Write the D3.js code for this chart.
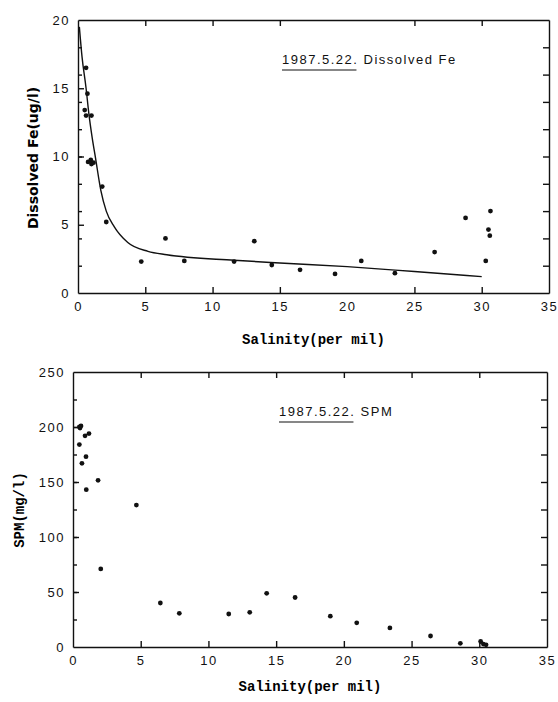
<!DOCTYPE html>
<html>
<head>
<meta charset="utf-8">
<script src="https://cdn.jsdelivr.net/npm/d3@7"></script>
<style>
  body { margin: 0; background: #fff; }
  svg { display: block; }
  .tick text { font-family: "Liberation Sans", sans-serif; font-size: 13px; letter-spacing: 1.5px; fill: #111; }
  .tick line, .domain { stroke: #111; stroke-width: 1.4px; }
</style>
</head>
<body>
<svg id="chart" width="558" height="702"></svg>
<script>
// dissolved Fe vs salinity (1987.5.22)
const feSal = [0.6, 0.7, 0.5, 0.6, 1.0, 0.75, 0.95, 1.0, 1.15, 1.8, 2.1, 4.7, 6.5, 7.9, 11.6, 13.1, 14.4, 16.5, 19.1, 21.05, 23.55, 26.5, 28.8, 30.3, 30.5, 30.6, 30.65];
const feVal = [16.5, 14.6, 13.4, 13.0, 13.0, 9.6, 9.75, 9.45, 9.55, 7.8, 5.2, 2.3, 4.0, 2.35, 2.3, 3.8, 2.05, 1.7, 1.4, 2.35, 1.45, 3.0, 5.5, 2.35, 4.65, 4.2, 6.0];

// fitted curve
const fitSal = [0.1, 0.3, 0.6, 0.8, 1.05, 1.3, 1.7, 2.1, 2.7, 3.7, 5.2, 6.6, 11.6, 15, 20, 25, 30];
const fitVal = [19.5, 17.3, 15.0, 13.2, 11.4, 9.9, 7.5, 6.0, 4.85, 3.7, 3.05, 2.8, 2.4, 2.2, 1.93, 1.57, 1.2];

// SPM vs salinity
const spmSal = [0.52, 0.59, 0.47, 0.47, 0.66, 0.89, 1.18, 0.96, 0.98, 1.85, 2.05, 4.68, 6.45, 7.85, 11.5, 13.05, 14.3, 16.4, 19.0, 20.95, 23.4, 26.4, 28.6, 30.1, 30.3, 30.5];
const spmVal = [199, 201, 200, 184, 167, 192, 194, 173, 143, 151.5, 71, 129, 40, 30.6, 30, 31.5, 48.8, 45, 28, 22, 17.3, 10, 3.3, 5, 2.7, 2];

const salTicks = [0, 5, 10, 15, 20, 25, 30, 35];
const feTicks = [0, 5, 10, 15, 20];
const spmTicks = [0, 50, 100, 150, 200, 250];

const svg = d3.select('#chart');

function panel(opt) {
  const x = d3.scaleLinear().domain([0, 35]).range([opt.left, opt.right]);
  const y = d3.scaleLinear().domain([0, opt.ymax]).range([opt.bottom, opt.top]);
  const g = svg.append('g');

  const minorY = d3.range(0, opt.ymax + 0.001, opt.ymax / 10);

  g.append('g').attr('transform', `translate(0,${opt.bottom})`)
    .call(d3.axisBottom(x).tickValues(salTicks).tickSizeInner(-6).tickSizeOuter(0).tickPadding(9).tickFormat(d3.format('d')));
  g.append('g').attr('transform', `translate(0,${opt.top})`)
    .call(d3.axisTop(x).tickValues(salTicks).tickSizeInner(-6).tickSizeOuter(0).tickFormat(''));
  g.append('g').attr('transform', `translate(${opt.left},0)`)
    .call(d3.axisLeft(y).tickValues(opt.yTicks).tickSizeInner(-6).tickSizeOuter(0).tickPadding(8).tickFormat(d3.format('d')));
  g.append('g').attr('transform', `translate(${opt.left},0)`)
    .call(d3.axisLeft(y).tickValues(minorY).tickSizeInner(-4).tickSizeOuter(0).tickFormat(''))
    .select('.domain').remove();
  g.append('g').attr('transform', `translate(${opt.right},0)`)
    .call(d3.axisRight(y).tickValues(minorY).tickSizeInner(-6).tickSizeOuter(0).tickFormat(''));

  g.selectAll('.tick').filter(d => d === 0 || d === 35 || d === opt.ymax).select('line').remove();

  g.selectAll('circle.dot')
    .data(opt.xs.map((s, i) => [s, opt.ys[i]]))
    .enter().append('circle')
    .attr('class', 'dot')
    .attr('cx', d => x(d[0]))
    .attr('cy', d => y(d[1]))
    .attr('r', 2.4)
    .style('fill', '#111');

  if (opt.fit) {
    const line = d3.line().x(d => x(d[0])).y(d => y(d[1])).curve(d3.curveMonotoneX);
    g.append('path')
      .datum(opt.fit)
      .attr('d', line)
      .style('fill', 'none')
      .style('stroke', '#111')
      .style('stroke-width', 1.4);
  }

  // title with underlined date
  const t = g.append('text')
    .attr('x', opt.titleX)
    .attr('y', opt.top + 44)
    .style('font-family', '"Liberation Sans", sans-serif')
    .style('font-size', '13px')
    .style('letter-spacing', '1.5px')
    .style('fill', '#111');
  const date = t.append('tspan').text('1987.5.22.');
  t.append('tspan').text(' ' + opt.title);
  const w = date.node().getComputedTextLength();
  g.append('line')
    .attr('x1', opt.titleX).attr('x2', opt.titleX + w - 2)
    .attr('y1', opt.top + 50).attr('y2', opt.top + 50)
    .style('stroke', '#111').style('stroke-width', 1.2);

  g.append('text')
    .attr('x', (opt.left + opt.right) / 2)
    .attr('y', opt.bottom + opt.xlabDy)
    .attr('text-anchor', 'middle')
    .style('font-family', '"Liberation Mono", monospace')
    .style('font-weight', 'bold')
    .style('font-size', '14px')
    .text('Salinity(per mil)');

  g.append('text')
    .attr('transform', `translate(${opt.ylabX},${opt.ylabY}) rotate(-90)`)
    .attr('text-anchor', 'middle')
    .style('font-family', opt.ylabFont)
    .style('font-weight', 'bold')
    .style('font-size', '14px')
    .text(opt.ylab);
}

panel({
  left: 78, right: 549, top: 20, bottom: 293, ymax: 20, yTicks: feTicks,
  xs: feSal, ys: feVal, fit: fitSal.map((s, i) => [s, fitVal[i]]),
  title: 'Dissolved Fe', titleX: 282, xlabDy: 51,
  ylab: 'Dissolved Fe(ug/l)', ylabX: 38, ylabY: 158, ylabFont: '"DejaVu Sans", sans-serif'
});

panel({
  left: 73, right: 547, top: 372, bottom: 647, ymax: 250, yTicks: spmTicks,
  xs: spmSal, ys: spmVal, fit: null,
  title: 'SPM', titleX: 279, xlabDy: 44,
  ylab: 'SPM(mg/l)', ylabX: 24, ylabY: 510, ylabFont: '"Liberation Mono", monospace'
});
</script>
</body>
</html>
